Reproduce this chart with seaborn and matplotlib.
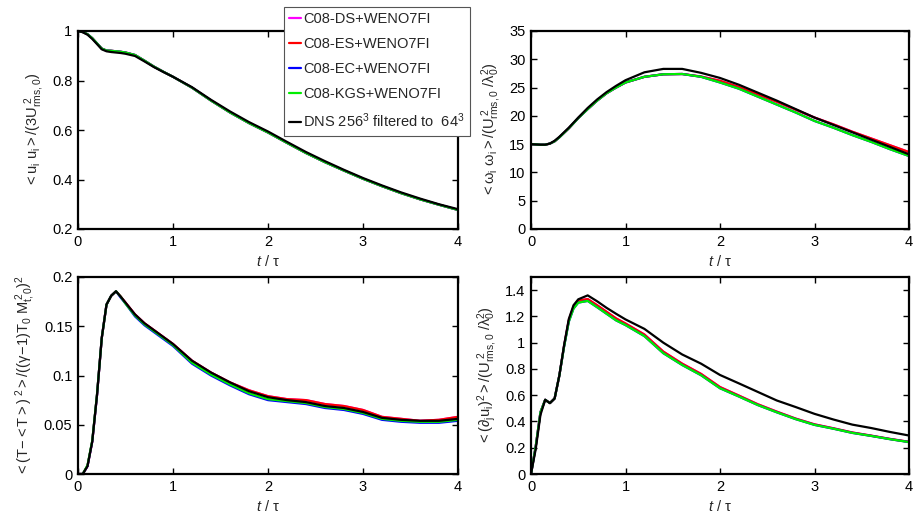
import numpy as np
import pandas as pd
import matplotlib
matplotlib.use("Agg")
import matplotlib.pyplot as plt
from matplotlib.ticker import FuncFormatter
from matplotlib.lines import Line2D
import seaborn as sns

# ---------------- data ----------------
t = [0, 0.05, 0.1, 0.15, 0.2, 0.25, 0.3, 0.35, 0.4, 0.45, 0.5, 0.6, 0.7, 0.8, 0.9, 1.0,
     1.2, 1.4, 1.6, 1.8, 2.0, 2.2, 2.4, 2.6, 2.8, 3.0, 3.2, 3.4, 3.6, 3.8, 4.0]

series_names = ["C08-DS+WENO7FI", "C08-ES+WENO7FI", "C08-EC+WENO7FI",
                "C08-KGS+WENO7FI", "DNS 256$^{3}$ filtered to  64$^{3}$"]
series_colors = ["#ff00ff", "#ff0000", "#0000ff", "#00ee00", "#000000"]

# kinetic energy
ke_dns = [1.0, 0.995, 0.985, 0.968, 0.947, 0.926, 0.918, 0.915, 0.913, 0.911, 0.908, 0.899, 0.877,
          0.854, 0.834, 0.815, 0.773, 0.722, 0.675, 0.632, 0.594, 0.552, 0.511, 0.474, 0.439,
          0.406, 0.376, 0.348, 0.323, 0.300, 0.280]
ke_model = [1.0, 0.996, 0.987, 0.971, 0.950, 0.929, 0.921, 0.920, 0.918, 0.916, 0.913, 0.903, 0.880,
            0.856, 0.835, 0.815, 0.771, 0.719, 0.671, 0.628, 0.590, 0.548, 0.507, 0.470, 0.436,
            0.403, 0.373, 0.345, 0.320, 0.298, 0.277]

# enstrophy
ens_dns = [15.0, 14.95, 14.9, 14.9, 15.1, 15.6, 16.3, 17.1, 17.9, 18.8, 19.7, 21.4, 22.9, 24.2,
           25.3, 26.3, 27.7, 28.3, 28.3, 27.6, 26.7, 25.5, 24.1, 22.7, 21.2, 19.7, 18.4, 17.1,
           15.8, 14.5, 13.2]
ens_es = [15.0, 14.95, 14.9, 14.9, 15.1, 15.5, 16.2, 17.0, 17.8, 18.7, 19.6, 21.2, 22.7, 24.0,
          25.0, 25.9, 26.9, 27.35, 27.4, 26.95, 26.2, 25.1, 23.8, 22.5, 21.1, 19.7, 18.5, 17.2,
          16.0, 14.8, 13.6]
ens_kgs = [15.0, 14.95, 14.9, 14.9, 15.1, 15.5, 16.2, 17.0, 17.8, 18.7, 19.6, 21.2, 22.7, 24.0,
           25.0, 25.9, 26.9, 27.35, 27.4, 26.9, 25.9, 24.8, 23.4, 22.0, 20.6, 19.1, 17.9, 16.6,
           15.4, 14.1, 12.9]

# temperature variance
tv_dns = [0.0, 0.0, 0.008, 0.033, 0.080, 0.138, 0.172, 0.181, 0.1855, 0.180, 0.174, 0.162, 0.153,
          0.146, 0.139, 0.132, 0.115, 0.103, 0.093, 0.084, 0.078, 0.075, 0.073, 0.069, 0.067,
          0.063, 0.057, 0.055, 0.054, 0.054, 0.056]
tv_es = [0.0, 0.0, 0.008, 0.033, 0.080, 0.138, 0.172, 0.181, 0.1855, 0.180, 0.174, 0.162, 0.153,
         0.146, 0.139, 0.132, 0.115, 0.103, 0.093, 0.085, 0.079, 0.076, 0.075, 0.071, 0.069,
         0.065, 0.058, 0.056, 0.054, 0.055, 0.058]
tv_ec = [0.0, 0.0, 0.008, 0.033, 0.080, 0.138, 0.172, 0.181, 0.1855, 0.179, 0.173, 0.160, 0.151,
         0.144, 0.137, 0.130, 0.112, 0.100, 0.090, 0.081, 0.075, 0.073, 0.071, 0.067, 0.065,
         0.061, 0.055, 0.053, 0.052, 0.052, 0.054]
tv_kgs = [0.0, 0.0, 0.009, 0.034, 0.081, 0.138, 0.172, 0.181, 0.1855, 0.180, 0.173, 0.161, 0.152,
          0.145, 0.138, 0.131, 0.113, 0.101, 0.091, 0.082, 0.076, 0.074, 0.072, 0.068, 0.066,
          0.062, 0.056, 0.054, 0.053, 0.053, 0.055]

# dissipation
ds_dns = [0.0, 0.19, 0.45, 0.565, 0.54, 0.575, 0.75, 0.98, 1.18, 1.285, 1.33, 1.36, 1.315, 1.265,
          1.22, 1.177, 1.105, 1.0, 0.91, 0.84, 0.754, 0.69, 0.625, 0.56, 0.51, 0.458, 0.415,
          0.376, 0.35, 0.32, 0.293]
ds_es = [0.0, 0.21, 0.47, 0.565, 0.54, 0.575, 0.75, 0.975, 1.17, 1.275, 1.32, 1.332, 1.285, 1.235,
         1.185, 1.146, 1.062, 0.932, 0.84, 0.762, 0.662, 0.597, 0.531, 0.475, 0.422, 0.378,
         0.348, 0.316, 0.292, 0.267, 0.245]
ds_kgs = [0.0, 0.21, 0.47, 0.565, 0.54, 0.575, 0.75, 0.97, 1.16, 1.26, 1.305, 1.318, 1.27, 1.22,
          1.17, 1.134, 1.05, 0.92, 0.83, 0.752, 0.653, 0.59, 0.525, 0.47, 0.418, 0.374,
          0.345, 0.313, 0.29, 0.265, 0.243]

panels = [
    dict(data=[ke_model, ke_model, ke_model, ke_model, ke_dns], ylim=(0.2, 1.0),
         yticks=[0.2, 0.4, 0.6, 0.8, 1.0],
         ylabel=r'$<u_{i}\ u_{i}>/(3U^{\ 2}_{rms,0})$'),
    dict(data=[ens_es, ens_es, ens_kgs, ens_kgs, ens_dns], ylim=(0, 35),
         yticks=[0, 5, 10, 15, 20, 25, 30, 35],
         ylabel=r'$<\omega_{i}\ \omega_{i}>/(U^{\ 2}_{rms,0}\ /\lambda_{0}^{2})$'),
    dict(data=[tv_es, tv_es, tv_ec, tv_kgs, tv_dns], ylim=(0, 0.2),
         yticks=[0, 0.05, 0.1, 0.15, 0.2],
         ylabel=r'$<(T\!-\!<T>)^{\ 2}>/((\gamma\!-\!1)T_{0}\ M^{\,2}_{t,0})^{2}$'),
    dict(data=[ds_es, ds_es, ds_kgs, ds_kgs, ds_dns], ylim=(0, 1.5),
         yticks=[0, 0.2, 0.4, 0.6, 0.8, 1.0, 1.2, 1.4],
         ylabel=r'$<(\partial_{j}u_{i})^{2}>/(U^{\ 2}_{rms,0}\ /\lambda_{0}^{2})$'),
]

# ---------------- style ----------------
sns.set_style("ticks")
plt.rcParams['font.family'] = ['Liberation Sans', 'DejaVu Sans']
plt.rcParams['mathtext.fontset'] = 'custom'
plt.rcParams['mathtext.rm'] = 'Liberation Sans'
plt.rcParams['mathtext.it'] = 'Liberation Sans:italic'
plt.rcParams['mathtext.default'] = 'regular'

W, H = 916, 516
fig = plt.figure(figsize=(W / 100, H / 100), dpi=100)

# axes boxes in pixels: (left, top, right, bottom)
boxes = [(78, 31, 458, 229), (531, 31, 909, 229),
         (78, 277, 458, 474), (531, 277, 909, 474)]

fmt = FuncFormatter(lambda v, p: ('%g' % round(v, 4)))
for box, pan in zip(boxes, panels):
    l, tp, r, b = box
    ax = fig.add_axes([l / W, 1 - b / H, (r - l) / W, (b - tp) / H])
    frames = []
    for name, vals in zip(series_names, pan['data']):
        frames.append(pd.DataFrame({'t': t, 'v': vals, 'run': name}))
    df = pd.concat(frames, ignore_index=True)
    sns.lineplot(data=df, x='t', y='v', hue='run', hue_order=series_names,
                 palette=series_colors, linewidth=1.6, ax=ax, legend=False,
                 sort=False, estimator=None)
    ax.set_xlim(0, 4)
    ax.set_ylim(*pan['ylim'])
    ax.set_xticks([0, 1, 2, 3, 4])
    ax.set_yticks(pan['yticks'])
    ax.xaxis.set_major_formatter(fmt)
    ax.yaxis.set_major_formatter(fmt)
    ax.tick_params(direction='in', top=True, right=True, length=4, width=1.0,
                   labelsize=10.5, pad=4, colors='black')
    for s in ax.spines.values():
        s.set_linewidth(1.6)
        s.set_color('black')
        s.set_visible(True)
    ax.set_xlabel(r'$\mathit{t}$ / τ', fontsize=10.5, labelpad=4)
    ax.set_ylabel(pan['ylabel'], fontsize=10.5, labelpad=4)

# legend
handles = [Line2D([0], [0], color=c, lw=1.6) for c in series_colors]
leg = fig.legend(handles, series_names, loc='upper left',
                 bbox_to_anchor=(284 / W, 1 - 7 / H), fontsize=10.5,
                 handlelength=0.8, handletextpad=0.15, labelspacing=0.75,
                 borderpad=0.35, borderaxespad=0, fancybox=False, framealpha=1,
                 edgecolor='#555555')
leg.get_frame().set_linewidth(0.8)
leg.set_zorder(10)

fig.savefig('out.png', dpi=100)
